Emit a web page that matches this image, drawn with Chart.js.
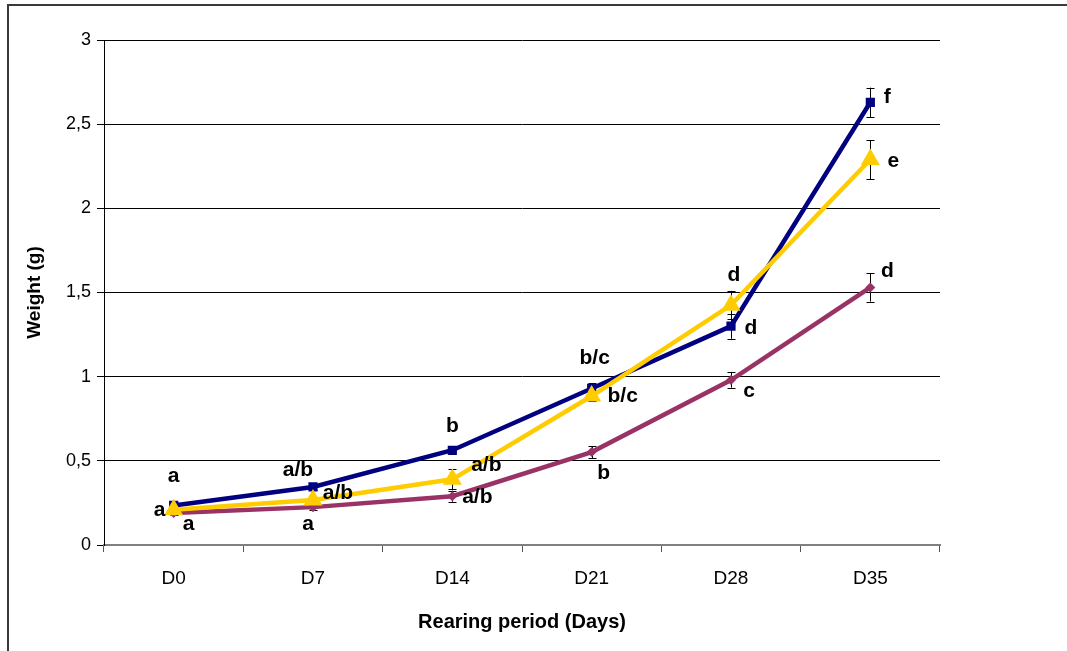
<!DOCTYPE html>
<html><head><meta charset="utf-8">
<script src="https://cdn.jsdelivr.net/npm/chart.js@4"></script>
<style>html,body{margin:0;padding:0;background:#fff}</style>
</head><body>
<canvas id="c" width="1067" height="651"></canvas>
<script>
// ---- data ----
const categories = ['D0', 'D7', 'D14', 'D21', 'D28', 'D35'];
const yTickValues = [0, 0.5, 1, 1.5, 2, 2.5, 3];

const blueValues   = [0.235, 0.345, 0.563, 0.93, 1.30, 2.63];
const blueErrors   = [0.02, 0.02, 0.02, 0.03, 0.075, 0.087];
const blueLetters  = ['a', 'a/b', 'b', 'b/c', 'd', 'f'];

const yellowValues  = [0.21, 0.268, 0.39, 0.885, 1.425, 2.29];
const yellowErrors  = [0.02, 0.02, 0.06, 0.03, 0.085, 0.116];
const yellowLetters = ['a', 'a/b', 'a/b', 'b/c', 'd', 'e'];

const purpleValues  = [0.19, 0.225, 0.29, 0.552, 0.98, 1.53];
const purpleErrors  = [0.01, 0.015, 0.033, 0.035, 0.045, 0.084];
const purpleLetters = ['a', 'a', 'a/b', 'b', 'c', 'd'];

// ---- label placement (pixel offsets from each point) ----
const blueOffsets   = [[0,-29],[-15,-17],[0,-24],[3,-30],[20,2],[17,-5]];
const yellowOffsets = [[-14,1],[25,-7],[34,-14],[31,0],[3,-30],[23,2]];
const purpleOffsets = [[15,11],[-5,17],[25,1],[12,21],[18,11],[17,-16]];

const errorBarPlugin = {
  id: 'errorBars',
  beforeDatasetsDraw(chart) {
    const ctx = chart.ctx, xs = chart.scales.x, ys = chart.scales.y;
    ctx.save();
    ctx.strokeStyle = '#000';
    ctx.lineWidth = 1;
    chart.data.datasets.forEach(ds => {
      ds.data.forEach((v, i) => {
        const e = ds.errors[i];
        const x = Math.round(xs.getPixelForValue(i)) + 0.5;
        const y1 = ys.getPixelForValue(v + e), y2 = ys.getPixelForValue(v - e);
        ctx.beginPath();
        ctx.moveTo(x, y1); ctx.lineTo(x, y2);
        ctx.moveTo(x - 4, Math.round(y1) + 0.5); ctx.lineTo(x + 4, Math.round(y1) + 0.5);
        ctx.moveTo(x - 4, Math.round(y2) + 0.5); ctx.lineTo(x + 4, Math.round(y2) + 0.5);
        ctx.stroke();
      });
    });
    ctx.restore();
  }
};

const letterPlugin = {
  id: 'letters',
  afterDatasetsDraw(chart) {
    const ctx = chart.ctx, xs = chart.scales.x, ys = chart.scales.y;
    ctx.save();
    ctx.fillStyle = '#000';
    ctx.font = 'bold 21px "Liberation Sans", Arial, sans-serif';
    ctx.textAlign = 'center';
    ctx.textBaseline = 'middle';
    chart.data.datasets.forEach(ds => {
      ds.data.forEach((v, i) => {
        const x = xs.getPixelForValue(i) + ds.offsets[i][0];
        const y = ys.getPixelForValue(v) + ds.offsets[i][1];
        ctx.fillText(ds.letters[i], x, y);
      });
    });
    ctx.restore();
  }
};

const framePlugin = {
  id: 'frame',
  afterDraw(chart) {
    const ctx = chart.ctx;
    ctx.save();
    ctx.strokeStyle = '#3a3a3a';
    ctx.lineWidth = 2;
    ctx.beginPath();
    ctx.moveTo(8, 651); ctx.lineTo(8, 5); ctx.lineTo(1067, 5);
    ctx.stroke();
    ctx.restore();
  }
};

new Chart(document.getElementById('c'), {
  type: 'line',
  data: {
    labels: categories,
    datasets: [
      {
        label: 'Yellow', data: yellowValues, errors: yellowErrors, letters: yellowLetters, offsets: yellowOffsets,
        borderColor: '#FFCC00', backgroundColor: '#FFCC00', borderWidth: 4.5,
        pointStyle: 'triangle', pointRadius: 11, pointBorderWidth: 0, order: 0, tension: 0
      },
      {
        label: 'Blue', data: blueValues, errors: blueErrors, letters: blueLetters, offsets: blueOffsets,
        borderColor: '#000080', backgroundColor: '#000080', borderWidth: 4.5,
        pointStyle: 'rect', pointRadius: 6.5, pointBorderWidth: 0, order: 1, tension: 0
      },
      {
        label: 'Purple', data: purpleValues, errors: purpleErrors, letters: purpleLetters, offsets: purpleOffsets,
        borderColor: '#993366', backgroundColor: '#993366', borderWidth: 4.5,
        pointStyle: 'rectRot', pointRadius: 5, pointBorderWidth: 0, order: 2, tension: 0
      }
    ]
  },
  options: {
    responsive: false,
    animation: false,
    devicePixelRatio: 1,
    layout: { padding: { left: 0, top: 40, right: 127, bottom: 0 } },
    plugins: { legend: { display: false }, tooltip: { enabled: false } },
    scales: {
      x: {
        type: 'category',
        offset: true,
        afterFit(s) { s.height = 106; },
        grid: { offset: true, drawOnChartArea: false, drawTicks: true, tickLength: 7, color: '#555', lineWidth: 1 },
        border: { display: true, color: '#808080', width: 2 },
        ticks: { color: '#000', padding: 15, font: { family: '"Liberation Sans Narrow", "Arial Narrow", "Liberation Sans", sans-serif', size: 19 } },
        title: { display: true, text: 'Rearing period (Days)', color: '#000', padding: { top: 17, bottom: 17 },
                 font: { family: '"Liberation Sans Narrow", "Arial Narrow", "Liberation Sans", sans-serif', size: 20, weight: 'bold', lineHeight: 1.2 } }
      },
      y: {
        min: 0, max: 3,
        afterFit(s) { s.width = 104; },
        afterBuildTicks(s) { s.ticks = yTickValues.map(v => ({ value: v })); },
        grid: { color: '#000', lineWidth: 1, drawTicks: true, tickLength: 7 },
        border: { display: true, color: '#000', width: 1 },
        ticks: {
          color: '#000', padding: 6,
          font: { family: '"Liberation Sans", Arial, sans-serif', size: 18 },
          callback: v => String(v).replace('.', ',')
        },
        title: { display: true, text: 'Weight (g)', color: '#000', padding: { top: 23, bottom: 0 },
                 font: { family: '"Liberation Sans", Arial, sans-serif', size: 19, weight: 'bold', lineHeight: 1.2 } }
      }
    }
  },
  plugins: [errorBarPlugin, letterPlugin, framePlugin]
});
</script>
</body></html>
